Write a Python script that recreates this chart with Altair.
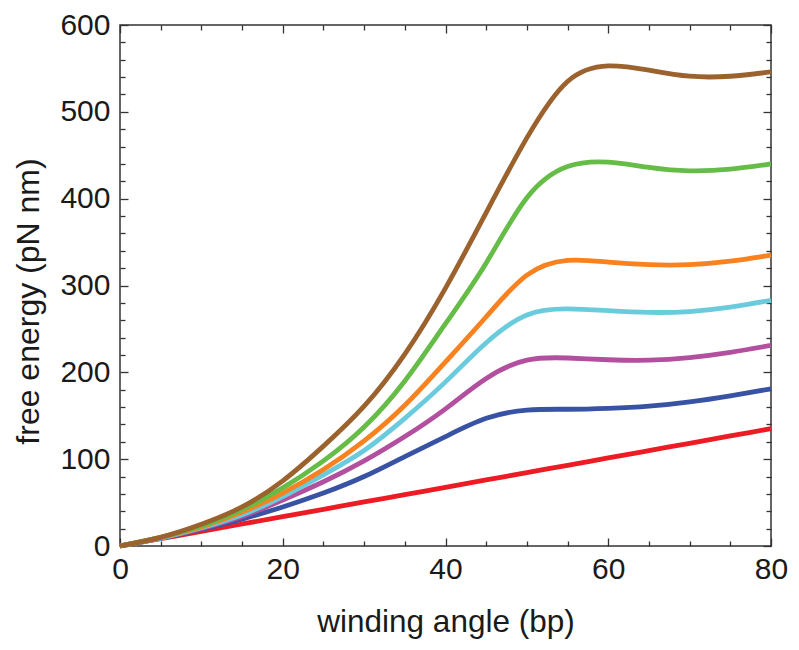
import altair as alt
import pandas as pd

# x grid (winding angle, bp)
x_vals = [0, 5, 10, 15, 20, 25, 30, 35, 40, 45, 50, 55, 60, 65, 70, 75, 80]

red     = [0, 8.45, 16.9, 25.35, 33.8, 42.25, 50.7, 59.15, 67.6, 76.05, 84.5, 92.95, 101.4, 109.85, 118.3, 126.75, 135.2]
blue    = [0, 9, 19, 31, 45, 61, 80, 103, 126, 147, 156.5, 157.5, 158.5, 161, 166, 173, 181]
magenta = [0, 9, 20, 34, 53, 74, 98, 126, 158, 193, 214, 216.5, 214.5, 214, 217, 223, 231]
cyan    = [0, 9, 21, 36, 57, 82, 110, 147, 189, 234, 266, 273, 271, 269, 270, 275, 283]
orange  = [0, 10, 22, 39, 61, 88, 121, 162, 212, 264, 312, 329, 327, 324, 324, 328, 335]
green   = [0, 10, 23, 42, 67, 98, 137, 190, 256, 326, 401, 437, 442, 436, 432, 434, 440]
brown   = [0, 10, 25, 45, 75, 115, 161, 221, 297, 384, 470, 535, 553, 548, 541, 541, 546]

series_names = ["red", "blue", "magenta", "cyan", "orange", "green", "brown"]
series_vals = [red, blue, magenta, cyan, orange, green, brown]
series_colors = ["#ED1C24", "#3953A4", "#B24F9E", "#6ACBDD", "#F7821F", "#65BC46", "#9B622E"]

x_ticks = [0, 20, 40, 60, 80]
y_ticks = [0, 100, 200, 300, 400, 500, 600]
x_minor = list(range(0, 81, 5))
y_minor = list(range(0, 601, 20))

rows = []
for i, (name, vals) in enumerate(zip(series_names, series_vals)):
    for xv, yv in zip(x_vals, vals):
        rows.append({"angle": xv, "energy": yv, "series": name, "order": i})
df = pd.DataFrame(rows)

W, H = 651, 521
FONT = "Liberation Sans"
AX = "#333333"
TXT = "#1a1a1a"

xscale = alt.Scale(domain=[0, 80], nice=False, zero=False)
yscale = alt.Scale(domain=[0, 600], nice=False, zero=False)
color = alt.Color("series:N", scale=alt.Scale(domain=series_names, range=series_colors), legend=None)

base = alt.Chart(df)

main = base.mark_line(strokeWidth=4.8, interpolate="natural").encode(
    x=alt.X("angle:Q", scale=xscale, title="winding angle (bp)",
            axis=alt.Axis(orient="bottom", values=x_ticks, ticks=False, domain=False, grid=False,
                          labelFontSize=30, labelFont=FONT, labelColor=TXT, labelPadding=8,
                          labelFlush=False, labelOverlap=False,
                          titleFontSize=31.5, titleFont=FONT, titleFontWeight="normal",
                          titleColor=TXT, titlePadding=22)),
    y=alt.Y("energy:Q", scale=yscale, title="free energy (pN nm)",
            axis=alt.Axis(orient="left", values=y_ticks, ticks=False, domain=False, grid=False,
                          labelFontSize=30, labelFont=FONT, labelColor=TXT, labelPadding=10,
                          labelFlush=False, labelOverlap=False,
                          titleFontSize=32, titleFont=FONT, titleFontWeight="normal",
                          titleColor=TXT, titlePadding=14, titleY=276)),
    color=color,
    order=alt.Order("order:Q"),
    detail="series:N",
)

xtick_size = {"condition": {"test": "datum.value % 20 === 0", "value": 8}, "value": 5}
ytick_size = {"condition": {"test": "datum.value % 100 === 0", "value": 8}, "value": 5}

def tick_axis(orient, offset, values, size):
    return alt.Axis(orient=orient, offset=offset, values=values, labels=False, domain=False,
                    grid=False, ticks=True, tickSize=size, tickColor=AX, tickWidth=1.3, title=None)

inner1 = base.mark_line(opacity=0).encode(
    x=alt.X("angle:Q", scale=xscale, axis=tick_axis("top", -H, x_minor, xtick_size)),
    y=alt.Y("energy:Q", scale=yscale, axis=tick_axis("right", -W, y_minor, ytick_size)),
    detail="series:N",
)
inner2 = base.mark_line(opacity=0).encode(
    x=alt.X("angle:Q", scale=xscale, axis=tick_axis("bottom", -H, x_minor, xtick_size)),
    y=alt.Y("energy:Q", scale=yscale, axis=tick_axis("left", -W, y_minor, ytick_size)),
    detail="series:N",
)

chart = alt.layer(main, inner1, inner2).resolve_scale(
    x="independent", y="independent"
).properties(
    width=W, height=H,
    autosize=alt.AutoSizeParams(type="none"),
    padding={"left": 112, "top": 17, "right": 20, "bottom": 96},
).configure_view(
    stroke=AX, strokeWidth=1.5
)

chart.save("out.html", embed_options={"renderer": "svg", "actions": False})
